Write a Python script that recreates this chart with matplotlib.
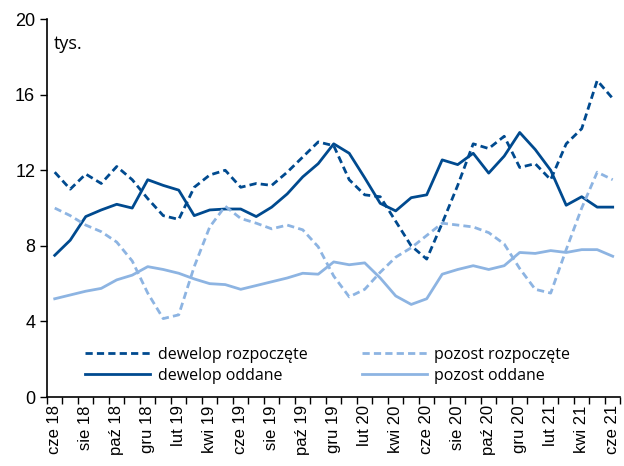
import matplotlib
matplotlib.use('Agg')
import matplotlib.pyplot as plt
import numpy as np

months = ['cze 18', 'lip 18', 'sie 18', 'wrz 18', 'paź 18', 'lis 18', 'gru 18', 'sty 19',
          'lut 19', 'mar 19', 'kwi 19', 'maj 19', 'cze 19', 'lip 19', 'sie 19', 'wrz 19',
          'paź 19', 'lis 19', 'gru 19', 'sty 20', 'lut 20', 'mar 20', 'kwi 20', 'maj 20',
          'cze 20', 'lip 20', 'sie 20', 'wrz 20', 'paź 20', 'lis 20', 'gru 20', 'sty 21',
          'lut 21', 'mar 21', 'kwi 21', 'maj 21', 'cze 21']

dewelop_rozp = [11.9, 11.0, 11.8, 11.3, 12.2, 11.5, 10.5, 9.6, 9.4, 11.1, 11.75, 12.0,
                11.1, 11.3, 11.2, 11.9, 12.7, 13.5, 13.3, 11.5, 10.7, 10.6, 9.3, 8.0,
                7.3, 9.2, 11.2, 13.4, 13.15, 13.8, 12.15, 12.35, 11.5, 13.4, 14.2, 16.75, 15.8]
dewelop_odd = [7.5, 8.3, 9.55, 9.9, 10.2, 10.0, 11.5, 11.2, 10.95, 9.6, 9.9, 9.95,
               9.95, 9.55, 10.05, 10.75, 11.65, 12.35, 13.4, 12.9, 11.6, 10.25, 9.85, 10.55,
               10.7, 12.55, 12.3, 12.9, 11.85, 12.75, 14.0, 13.1, 12.0, 10.15, 10.6, 10.05, 10.05]
pozost_rozp = [10.0, 9.6, 9.1, 8.75, 8.2, 7.2, 5.5, 4.15, 4.35, 6.9, 9.0, 10.1,
               9.45, 9.2, 8.9, 9.1, 8.85, 7.95, 6.4, 5.3, 5.7, 6.6, 7.4, 7.9,
               8.55, 9.2, 9.1, 9.0, 8.7, 8.1, 6.8, 5.7, 5.5, 7.8, 10.0, 11.9, 11.5]
pozost_odd = [5.2, 5.4, 5.6, 5.75, 6.2, 6.45, 6.9, 6.75, 6.55, 6.25, 6.0, 5.95,
              5.7, 5.9, 6.1, 6.3, 6.55, 6.5, 7.15, 7.0, 7.1, 6.3, 5.35, 4.9,
              5.2, 6.5, 6.75, 6.95, 6.75, 6.95, 7.65, 7.6, 7.75, 7.65, 7.8, 7.8, 7.45]

dark = '#004a8f'
light = '#8db4e2'

plt.rcParams['font.family'] = ['Liberation Sans', 'DejaVu Sans']

fig = plt.figure(figsize=(6.24, 4.66), dpi=100)
ax = fig.add_axes([0.0753, 0.148, 0.919, 0.811])

x = np.arange(len(months))
lw = 2.0
ax.plot(x, dewelop_rozp, color=dark, lw=lw, dashes=(2.6, 1.5), label='dewelop rozpoczęte')
ax.plot(x, dewelop_odd, color=dark, lw=lw, label='dewelop oddane')
ax.plot(x, pozost_rozp, color=light, lw=lw, dashes=(2.6, 1.5), label='pozost rozpoczęte')
ax.plot(x, pozost_odd, color=light, lw=lw, label='pozost oddane')

ax.set_xlim(-0.5, len(months) - 0.5)
ax.set_ylim(0, 20)
ax.set_yticks([0, 4, 8, 12, 16, 20])
ax.set_xticks(x[::2])
ax.set_xticklabels(months[::2], rotation=90, fontsize=12)
ax.set_xticks(np.arange(-0.5, len(months)), minor=True)
ax.tick_params(axis='x', which='major', length=0, pad=6)
ax.tick_params(axis='x', which='minor', length=5, direction='out', width=1)
ax.tick_params(axis='y', length=5, direction='out', width=1, labelsize=13)

for s in ['top', 'right']:
    ax.spines[s].set_visible(False)
ax.spines['left'].set_linewidth(1.2)
ax.spines['bottom'].set_linewidth(1.2)

ax.text(0.012, 0.935, 'tys.', transform=ax.transAxes, fontsize=13,
        family=['Open Sans', 'DejaVu Sans'], va='center')

ax.legend(loc='lower left', bbox_to_anchor=(0.066, 0.035), ncol=2, frameon=False,
          handlelength=4.1, columnspacing=3.4, labelspacing=0.3,
          handletextpad=0.45, borderpad=0, borderaxespad=0,
          prop={'family': ['Open Sans', 'DejaVu Sans'], 'size': 11.5})

fig.savefig('out.png', dpi=100)
